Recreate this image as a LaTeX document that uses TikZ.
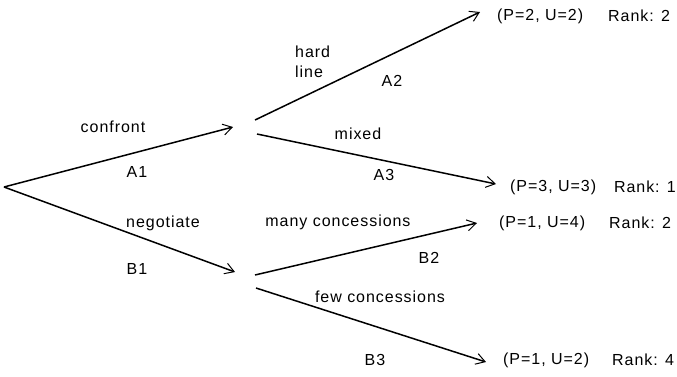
\documentclass[tikz,border=0pt]{standalone}
\usepackage{fontspec}
\setmainfont{Liberation Sans}[LetterSpace=6]
\usetikzlibrary{arrows.meta}
\begin{document}
\begin{tikzpicture}[x=1pt,y=-1pt,
  br/.style={line width=1.5pt,-{Straight Barb[length=9pt,width=11pt,line width=1pt]}},
  lbl/.style={inner sep=0pt,font=\fontsize{16}{18}\selectfont},
  pay/.style={inner sep=0pt,anchor=west,font=\fontsize{16}{18}\selectfont}]
\useasboundingbox (0,0) rectangle (677,376);
\coordinate (r) at (4,187);
\coordinate (a) at (233,127);
\coordinate (b) at (235,272);
\coordinate (as) at (255,120);
\coordinate (am) at (257,134);
\coordinate (bs) at (255,275);
\coordinate (bf) at (256,288);
\coordinate (a2) at (480,12);
\coordinate (a3) at (496,184);
\coordinate (b2) at (477,223);
\coordinate (b3) at (486,362);
\draw[br] (r) -- (a);
\draw[br] (r) -- (b);
\draw[br] (as) -- (a2);
\draw[br] (am) -- (a3);
\draw[br] (bs) -- (b2);
\draw[br] (bf) -- (b3);
\node[lbl] (l1) at (113,127) {confront};
\node[lbl] (l2) at (137,172) {A1};
\node[lbl] (l3) at (163,223) {negotiate};
\node[lbl] (l4) at (137,269) {B1};
\node[lbl,anchor=west,align=left] (l5) at (295,62) {hard\\[2pt]line};
\node[lbl] (l6) at (392,81) {A2};
\node[lbl] (l7) at (358,134) {mixed};
\node[lbl] (l8) at (384,175) {A3};
\node[lbl] (l9) at (338,222) {many concessions};
\node[lbl] (l10) at (429,258) {B2};
\node[lbl] (l11) at (380,297) {few concessions};
\node[lbl] (l12) at (375,360) {B3};
\node[pay] (p1) at (497,16) {(P=2, U=2)};
\node[pay] (k1) at (608,16) {Rank: 2};
\node[pay] (p2) at (510,187) {(P=3, U=3)};
\node[pay,anchor=east] (k2) at (676,187) {Rank: 1};
\node[pay] (p3) at (499,223) {(P=1, U=4)};
\node[pay] (k3) at (609,223) {Rank: 2};
\node[pay] (p4) at (503,360) {(P=1, U=2)};
\node[pay] (k4) at (612,360) {Rank: 4};
\end{tikzpicture}
\end{document}
